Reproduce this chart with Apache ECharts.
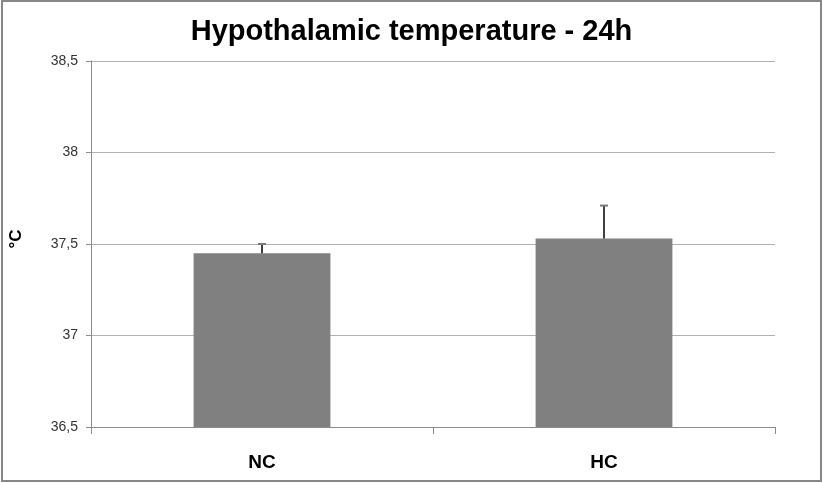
<!DOCTYPE html>
<html>
<head>
<meta charset="utf-8">
<style>
  html, body { margin: 0; padding: 0; background: #fff; }
  #chart { width: 823px; height: 483px; }
</style>
<script src="https://cdn.jsdelivr.net/npm/echarts@6/dist/echarts.min.js"></script>
</head>
<body>
<div id="chart"></div>
<script>
// Groups and mean temperatures (°C) with the upper standard error
const categories = ['NC', 'HC'];
const means = [37.45, 37.53];
const errors = [0.05, 0.18];
const yTicks = [36.5, 37, 37.5, 38, 38.5];

const chart = echarts.init(document.getElementById('chart'), null, { renderer: 'canvas' });

const errorData = categories.map((c, i) => [i, means[i], means[i] + errors[i]]);

chart.setOption({
  animation: false,
  backgroundColor: '#ffffff',
  title: {
    text: 'Hypothalamic temperature - 24h',
    left: 'center',
    top: 12,
    textStyle: { fontFamily: 'Liberation Sans', fontWeight: 'bold', fontSize: 29, color: '#000' }
  },
  graphic: [{
    type: 'rect',
    shape: { x: 2, y: 1, width: 819, height: 480 },
    style: { fill: 'none', stroke: '#878787', lineWidth: 2 },
    silent: true
  }],
  grid: { left: 89, right: 48, top: 61, bottom: 56 },
  xAxis: {
    type: 'category',
    data: categories,
    boundaryGap: true,
    axisLine: { lineStyle: { color: '#8c8c8c', width: 1 } },
    axisTick: { show: true, length: 7, alignWithLabel: false, lineStyle: { color: '#8c8c8c' } },
    axisLabel: {
      margin: 26,
      fontFamily: 'Liberation Sans',
      fontWeight: 'bold',
      fontSize: 19,
      color: '#000'
    }
  },
  yAxis: {
    type: 'value',
    min: 36.5,
    max: 38.5,
    interval: 0.5,
    name: '°C',
    nameLocation: 'middle',
    nameGap: 66,
    nameTextStyle: { fontFamily: 'Liberation Sans', fontWeight: 'bold', fontSize: 17, color: '#000', padding: [0, 0, 0, 10] },
    axisLine: { show: true, lineStyle: { color: '#8c8c8c', width: 1 } },
    axisTick: { show: true, length: 5, lineStyle: { color: '#8c8c8c' } },
    splitLine: { show: true, lineStyle: { color: '#b0b0b0', width: 1 } },
    axisLabel: {
      margin: 13,
      fontFamily: 'Liberation Sans',
      fontSize: 14,
      color: '#333',
      formatter: v => {
        const t = yTicks.find(x => Math.abs(x - v) < 1e-9);
        return t === undefined ? '' : String(t).replace('.', ',');
      }
    }
  },
  series: [
    {
      type: 'bar',
      data: means,
      barWidth: '40%',
      itemStyle: { color: '#808080' },
      z: 2
    },
    {
      type: 'custom',
      data: errorData,
      z: 3,
      renderItem: (params, api) => {
        const x = api.value(0);
        const base = api.coord([x, api.value(1)]);
        const top = api.coord([x, api.value(2)]);
        const capHalf = 4;
        return {
          type: 'group',
          children: [
            {
              type: 'line',
              shape: { x1: base[0], y1: base[1], x2: top[0], y2: top[1] },
              style: { stroke: '#000', lineWidth: 1.5 }
            },
            {
              type: 'line',
              shape: { x1: top[0] - capHalf, y1: top[1], x2: top[0] + capHalf, y2: top[1] },
              style: { stroke: '#7a7a7a', lineWidth: 2 }
            }
          ]
        };
      }
    }
  ]
});
</script>
</body>
</html>
